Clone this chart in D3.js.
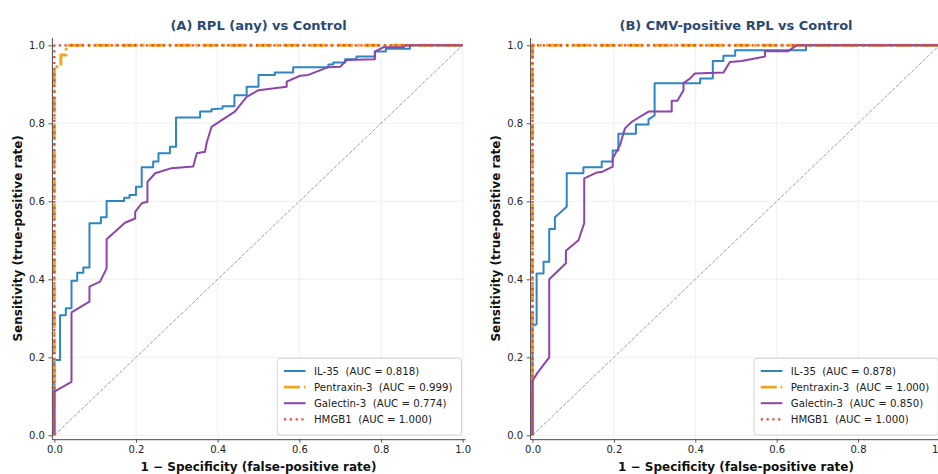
<!DOCTYPE html>
<html>
<head>
<meta charset="utf-8">
<script src="https://cdn.jsdelivr.net/npm/d3@7"></script>
<style>
  body { margin: 0; background: #fff; }
  text { font-family: "DejaVu Sans", sans-serif; }
</style>
</head>
<body>
<div id="chart"></div>
<script>
// ROC curve vertices [fpr, tpr]
const il35A = [[0,0],[0,0.193],[0.014,0.193],[0.014,0.308],[0.028,0.308],[0.028,0.326],[0.042,0.326],[0.042,0.396],[0.056,0.396],[0.056,0.417],[0.071,0.417],[0.071,0.43],[0.086,0.43],[0.086,0.544],[0.114,0.544],[0.114,0.559],[0.128,0.559],[0.128,0.601],[0.171,0.601],[0.171,0.609],[0.184,0.609],[0.184,0.616],[0.2,0.616],[0.2,0.637],[0.214,0.637],[0.214,0.687],[0.242,0.687],[0.242,0.702],[0.255,0.702],[0.255,0.723],[0.283,0.723],[0.283,0.74],[0.298,0.74],[0.298,0.815],[0.357,0.815],[0.357,0.83],[0.385,0.83],[0.385,0.836],[0.412,0.838],[0.412,0.844],[0.441,0.844],[0.441,0.872],[0.471,0.872],[0.471,0.894],[0.5,0.894],[0.5,0.924],[0.54,0.924],[0.54,0.93],[0.585,0.93],[0.585,0.944],[0.671,0.944],[0.671,0.951],[0.683,0.951],[0.683,0.956],[0.712,0.956],[0.712,0.964],[0.74,0.964],[0.74,0.971],[0.785,0.971],[0.785,0.984],[0.812,0.984],[0.812,0.991],[0.871,0.991],[0.871,1],[1,1]];
const ptx3A = [[0,0],[0,0.945],[0.016,0.945],[0.016,0.975],[0.029,0.975],[0.029,1],[1,1]];
const gal3A = [[0,0],[0,0.112],[0.042,0.137],[0.042,0.315],[0.086,0.343],[0.086,0.381],[0.112,0.394],[0.128,0.428],[0.128,0.503],[0.173,0.545],[0.198,0.556],[0.198,0.573],[0.214,0.595],[0.228,0.599],[0.228,0.65],[0.247,0.672],[0.287,0.685],[0.34,0.689],[0.349,0.723],[0.369,0.727],[0.373,0.75],[0.385,0.791],[0.41,0.808],[0.442,0.83],[0.471,0.868],[0.5,0.885],[0.569,0.894],[0.569,0.907],[0.602,0.922],[0.622,0.924],[0.671,0.944],[0.7,0.945],[0.716,0.962],[0.785,0.964],[0.785,0.984],[0.806,0.995],[0.855,0.995],[0.86,1],[1,1]];
const hmgb1A = [[0,0],[0,1],[1,1]];

const il35B = [[0,0],[0,0.28],[0.01,0.285],[0.01,0.415],[0.027,0.415],[0.027,0.445],[0.041,0.445],[0.041,0.529],[0.055,0.529],[0.055,0.559],[0.069,0.572],[0.084,0.586],[0.084,0.672],[0.125,0.672],[0.125,0.687],[0.17,0.687],[0.17,0.702],[0.197,0.702],[0.197,0.73],[0.211,0.73],[0.211,0.773],[0.254,0.773],[0.254,0.797],[0.285,0.797],[0.285,0.81],[0.3,0.82],[0.3,0.903],[0.412,0.903],[0.412,0.915],[0.443,0.915],[0.443,0.96],[0.469,0.96],[0.469,0.973],[0.498,0.973],[0.498,0.987],[0.672,0.987],[0.672,1],[1,1]];
const ptx3B = [[0,0],[0,1],[1,1]];
const gal3B = [[0,0],[0,0.14],[0.012,0.16],[0.041,0.2],[0.041,0.4],[0.082,0.441],[0.082,0.473],[0.113,0.5],[0.127,0.544],[0.127,0.659],[0.156,0.673],[0.172,0.676],[0.197,0.689],[0.197,0.71],[0.215,0.744],[0.227,0.787],[0.244,0.804],[0.285,0.83],[0.342,0.83],[0.342,0.858],[0.356,0.858],[0.371,0.885],[0.371,0.903],[0.387,0.915],[0.399,0.928],[0.469,0.93],[0.485,0.957],[0.514,0.96],[0.571,0.971],[0.571,0.985],[0.628,0.985],[0.649,1],[1,1]];
const hmgb1B = [[0,0],[0,1],[1,1]];

const markers = ["IL-35", "Pentraxin-3", "Galectin-3", "HMGB1"];
const aucA = ["0.818", "0.999", "0.774", "1.000"];
const aucB = ["0.878", "1.000", "0.850", "1.000"];
const titles = ["(A) RPL (any) vs Control", "(B) CMV-positive RPL vs Control"];
const tickVals = [0, 0.2, 0.4, 0.6, 0.8, 1.0];
const diagonal = [[0,0],[1,1]];

const colors = ["#2E86C1", "#F0A520", "#8E44AD", "#E04A3A"];
const styles = [
  {width: 2, dash: null},
  {width: 2.9, dash: "16,4,2.9,4"},
  {width: 2, dash: null},
  {width: 2.2, dash: "2.2,3.6"}
];

const width = 938, height = 474;
const svg = d3.select("#chart").append("svg")
  .attr("width", width).attr("height", height);

const panels = [
  {title: titles[0], xRange: [51.9, 465.1], series: [il35A, ptx3A, gal3A, hmgb1A], auc: aucA},
  {title: titles[1], xRange: [530.1, 941.9], series: [il35B, ptx3B, gal3B, hmgb1B], auc: aucB}
];

const y = d3.scaleLinear().domain([-0.01, 1.02]).range([439.2, 37.5]);

panels.forEach(p => {
  const x = d3.scaleLinear().domain([-0.006, 1.006]).range(p.xRange);
  const g = svg.append("g");
  const midX = (p.xRange[0] + p.xRange[1]) / 2;

  // grid
  g.append("g").selectAll("line").data(tickVals).join("line")
    .attr("x1", d => x(d)).attr("x2", d => x(d))
    .attr("y1", y.range()[0]).attr("y2", y.range()[1])
    .attr("stroke", "#ececec").attr("stroke-width", 0.8);
  g.append("g").selectAll("line").data(tickVals).join("line")
    .attr("y1", d => y(d)).attr("y2", d => y(d))
    .attr("x1", p.xRange[0]).attr("x2", p.xRange[1])
    .attr("stroke", "#ececec").attr("stroke-width", 0.8);

  const line = d3.line().x(d => x(d[0])).y(d => y(d[1]));

  // chance line
  g.append("path").attr("d", line(diagonal))
    .attr("fill", "none").attr("stroke", "#9f9f9f")
    .attr("stroke-width", 1).attr("stroke-dasharray", "3.7,1.6");

  p.series.forEach((s, i) => {
    g.append("path").attr("d", line(s))
      .attr("fill", "none")
      .attr("stroke", colors[i])
      .attr("stroke-width", styles[i].width)
      .attr("stroke-dasharray", styles[i].dash)
      .attr("stroke-linejoin", "round");
  });

  // axes
  const xAxis = d3.axisBottom(x).tickValues(tickVals).tickFormat(d3.format(".1f"))
    .tickSize(3.5).tickPadding(3.5).tickSizeOuter(0);
  const yAxis = d3.axisLeft(y).tickValues(tickVals).tickFormat(d3.format(".1f"))
    .tickSize(3.5).tickPadding(3.5).tickSizeOuter(0);
  const gx = g.append("g").attr("transform", `translate(0,${y.range()[0]})`).call(xAxis);
  const gy = g.append("g").attr("transform", `translate(${p.xRange[0]},0)`).call(yAxis);
  [gx, gy].forEach(a => {
    a.selectAll("text").attr("font-size", 10).attr("fill", "#222")
      .attr("font-family", "DejaVu Sans");
    a.selectAll("line").attr("stroke", "#333").attr("stroke-width", 0.8);
    a.select(".domain").attr("stroke", "#333").attr("stroke-width", 0.9);
  });

  // labels
  g.append("text").attr("x", midX).attr("y", 470.5)
    .attr("text-anchor", "middle").attr("font-size", 12).attr("font-weight", "bold")
    .attr("fill", "#111")
    .text("1 \u2212 Specificity (false-positive rate)");
  g.append("text")
    .attr("transform", `translate(${p.xRange[0] - 30},${(y.range()[0] + y.range()[1]) / 2}) rotate(-90)`)
    .attr("text-anchor", "middle").attr("font-size", 12).attr("font-weight", "bold")
    .attr("fill", "#111")
    .text("Sensitivity (true-positive rate)");
  g.append("text").attr("x", midX).attr("y", 29.5)
    .attr("text-anchor", "middle").attr("font-size", 13).attr("font-weight", "bold")
    .attr("fill", "#2a4a72")
    .text(p.title);

  // legend
  const lg = g.append("g");
  const box = lg.append("rect");
  const rowH = 16.1;
  const texts = [];
  markers.forEach((m, i) => {
    const t = lg.append("text").attr("font-size", 10.2).attr("fill", "#222")
      .attr("xml:space", "preserve").style("white-space", "pre")
      .attr("dy", "0.35em")
      .text(`${m}  (AUC = ${p.auc[i]})`);
    texts.push(t);
  });
  const textW = d3.max(texts, t => t.node().getComputedTextLength());
  const boxW = 36.7 + textW + 9;
  const boxRight = p.xRange[1] - 3.6;
  const boxLeft = boxRight - boxW;
  const boxBottom = 435;
  const boxTop = 358.3;
  box.attr("x", boxLeft).attr("y", boxTop).attr("width", boxW).attr("height", boxBottom - boxTop)
    .attr("rx", 3).attr("fill", "#fff").attr("fill-opacity", 0.85)
    .attr("stroke", "#d0d0d0").attr("stroke-width", 0.9);
  texts.forEach((t, i) => {
    const cy = 371 + i * rowH;
    t.attr("x", boxLeft + 36.7).attr("y", cy);
    lg.append("line")
      .attr("x1", boxLeft + 6.7).attr("x2", boxLeft + 28.3)
      .attr("y1", cy).attr("y2", cy)
      .attr("stroke", colors[i])
      .attr("stroke-width", styles[i].width)
      .attr("stroke-dasharray", styles[i].dash);
  });
});
</script>
</body>
</html>
